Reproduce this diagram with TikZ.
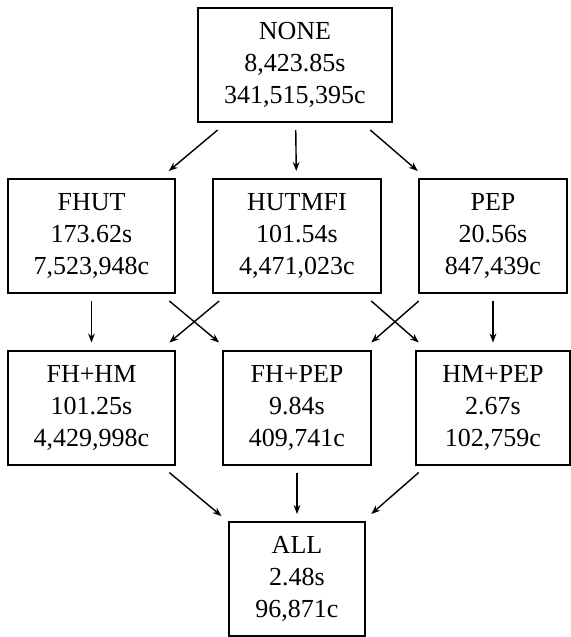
\documentclass[tikz,border=0pt]{standalone}
\usepackage{fontspec}
\setmainfont{Liberation Serif}
\usetikzlibrary{arrows.meta}
\begin{document}
\begin{tikzpicture}[x=0.5pt, y=-0.5pt, >={Stealth[length=4.5pt,width=3.4pt]},
        config/.style={draw, line width=1pt, align=center, inner xsep=13pt,
            inner ysep=7pt, minimum height=57pt, outer sep=4pt,
            font=\fontsize{13pt}{16pt}\selectfont},
        flow/.style={->, line width=0.7pt}]
        % ==== DEFINITIONS ====
        \def\colL{91.5}  % left column
        \def\colM{297}   % middle column
        \def\colR{493}   % right column
        \def\rowA{65}    % rows, top to bottom
        \def\rowB{236}
        \def\rowC{407.5}
        \def\rowD{579}

        \useasboundingbox (0,0) rectangle (570,637);

        % ==== TOP: NONE ====
        \node[config] (none) at (295,\rowA) {NONE\\8,423.85s\\341,515,395c};

        % ==== SINGLE OPTIMISATIONS ====
        \node[config] (fhut)   at (\colL,\rowB) {FHUT\\173.62s\\7,523,948c};
        \node[config] (hutmfi) at (\colM,\rowB) {HUTMFI\\101.54s\\4,471,023c};
        \node[config] (pep)    at (\colR,\rowB) {PEP\\20.56s\\847,439c};

        % ==== PAIRS ====
        \node[config] (fhhm)  at (\colL,\rowC) {FH+HM\\101.25s\\4,429,998c};
        \node[config] (fhpep) at (\colM,\rowC) {FH+PEP\\9.84s\\409,741c};
        \node[config] (hmpep) at (\colR,\rowC) {HM+PEP\\2.67s\\102,759c};

        % ==== BOTTOM: ALL ====
        \node[config] (all) at (\colM,\rowD) {ALL\\2.48s\\96,871c};

        % ==== ARROWS FROM NONE ====
        \draw[flow] (none) -- (fhut);
        \draw[flow] (none) -- (hutmfi);
        \draw[flow] (none) -- (pep);

        % ==== ARROWS TO PAIRS ====
        \draw[flow] (fhut) -- (fhhm);
        \draw[flow] (fhut) -- (fhpep);
        \draw[flow] (hutmfi) -- (fhhm);
        \draw[flow] (hutmfi) -- (hmpep);
        \draw[flow] (pep) -- (fhpep);
        \draw[flow] (pep) -- (hmpep);

        % ==== ARROWS TO ALL ====
        \draw[flow] (fhhm) -- (all);
        \draw[flow] (fhpep) -- (all);
        \draw[flow] (hmpep) -- (all);
    \end{tikzpicture}
\end{document}
